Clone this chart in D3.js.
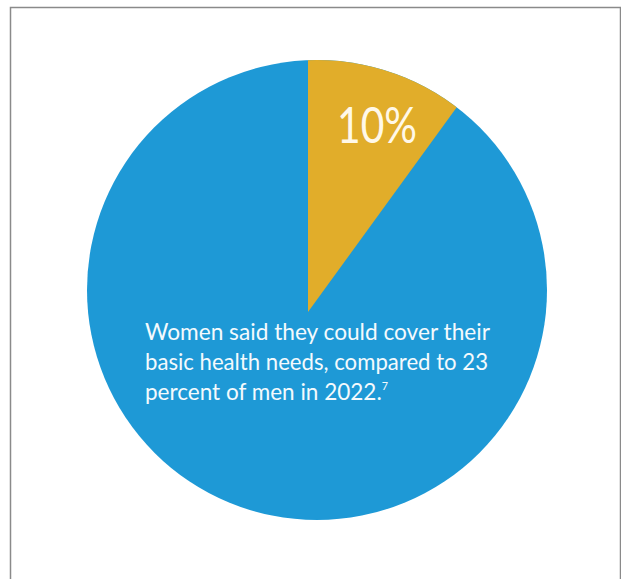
<!DOCTYPE html>
<html>
<head>
<meta charset="utf-8">
<script src="https://cdn.jsdelivr.net/npm/d3@7"></script>
<style>
  html, body { margin: 0; padding: 0; background: #fff; }
  svg { display: block; }
</style>
</head>
<body>
<svg id="chart" width="621" height="579"></svg>
<script>
// ---- data ----
const categories = ["Women who could cover basic health needs", "Other"];
const values = [10, 90];
const valueLabels = ["10%", ""];
const captionLines = [
  "Women said they could cover their",
  "basic health needs, compared to 23",
  "percent of men in 2022."
];
const footnoteMark = "7";

// ---- drawing ----
const W = 621, H = 579;
const svg = d3.select("#chart");

// frame
svg.append("path")
  .attr("d", "M10.5,579 L10.5,7.5 L620.5,7.5 L620.5,579")
  .attr("fill", "none")
  .attr("stroke", "#8a8a8a")
  .attr("stroke-width", 1.5);

const cx = 317, cy = 290, R = 230;
const colors = d3.scaleOrdinal().domain(categories).range(["#E1AD2A", "#1E99D6"]);

svg.append("defs").append("clipPath").attr("id", "pieclip")
  .append("circle").attr("cx", cx).attr("cy", cy).attr("r", R);

// base disc
svg.append("circle")
  .attr("cx", cx).attr("cy", cy).attr("r", R)
  .attr("fill", colors(categories[1]));

const pie = d3.pie().sort(null).value(d => d.v);
const arcs = pie(categories.map((c, i) => ({c, v: values[i], label: valueLabels[i]})));

// wedge apex sits slightly left/below of disc centre in the original artwork
const apexX = 308, apexY = 312;
const arcGen = d3.arc().innerRadius(0).outerRadius(320);

const g = svg.append("g").attr("clip-path", "url(#pieclip)")
  .append("g").attr("transform", `translate(${apexX},${apexY})`);
g.selectAll("path").data(arcs.filter(a => a.index === 0))
  .join("path")
  .attr("d", arcGen)
  .attr("fill", d => colors(d.data.c));

// value label
svg.append("text")
  .attr("x", 337).attr("y", 143)
  .attr("font-family", "Lato, 'Open Sans', sans-serif")
  .attr("font-weight", 400)
  .attr("font-size", 50)
  .attr("fill", "#FFF8E8")
  .attr("textLength", 80)
  .attr("lengthAdjust", "spacingAndGlyphs")
  .text(arcs[0].data.label);

// caption
const lineW = [345, 343, 243];
const cap = svg.append("g")
  .attr("font-family", "Lato, 'Open Sans', sans-serif")
  .attr("font-size", 23)
  .attr("fill", "#F4FAFD");
captionLines.forEach((t, i) => {
  const txt = cap.append("text")
    .attr("x", 145).attr("y", 340 + i * 30)
    .attr("textLength", lineW[i])
    .attr("lengthAdjust", "spacingAndGlyphs");
  txt.append("tspan").text(t);
  if (i === captionLines.length - 1) {
    txt.append("tspan")
      .attr("font-size", 11)
      .attr("dy", -10)
      .text(footnoteMark);
  }
});
</script>
</body>
</html>
